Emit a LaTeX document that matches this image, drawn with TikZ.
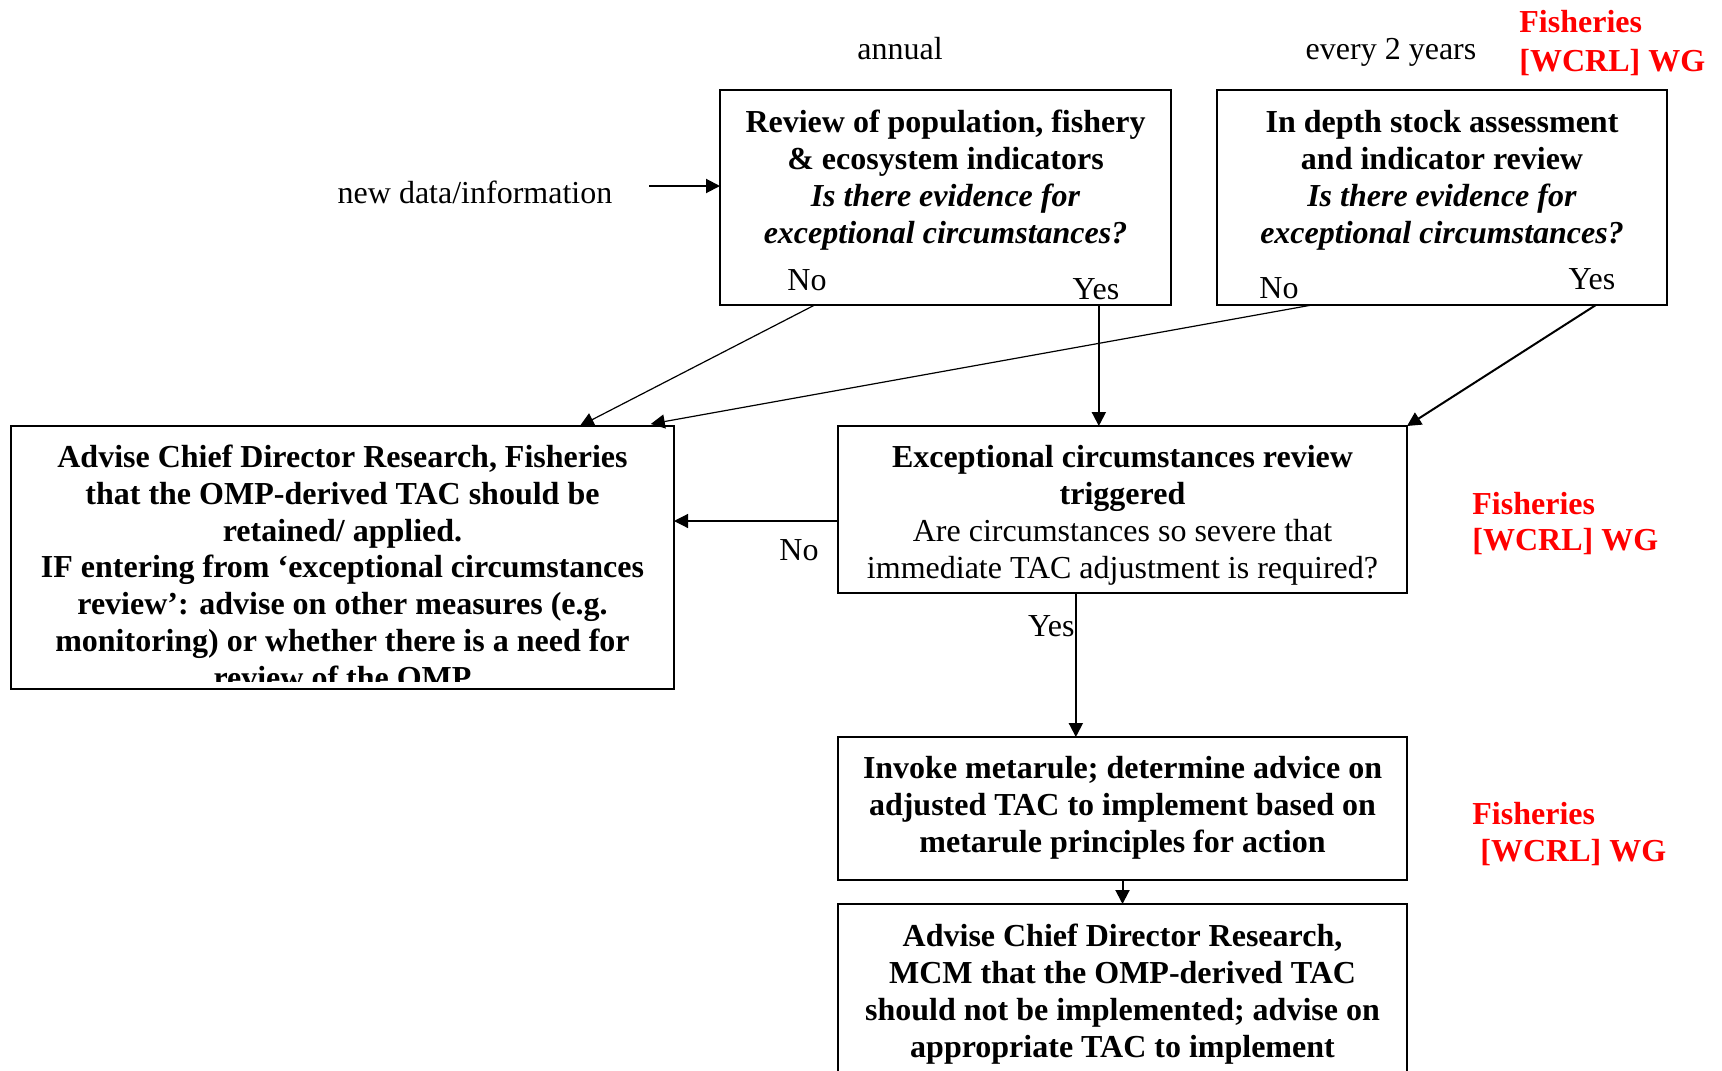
\documentclass[tikz,border=0pt]{standalone}
\usepackage{fontspec}
\setmainfont{Liberation Serif}
\usetikzlibrary{arrows.meta,fit,calc}
\definecolor{wgred}{RGB}{255,0,0}
\begin{document}
\begin{tikzpicture}[x=0.5pt,y=-0.5pt,
  box/.style={draw,line width=1pt,inner sep=0pt,outer sep=0pt},
  txt/.style={inner sep=0pt,align=center,font=\fontsize{16}{18.35}\selectfont},
  lbl/.style={inner sep=0pt,font=\fontsize{16}{18.35}\selectfont},
  wg/.style={inner sep=0pt,text=wgred,font=\fontsize{16}{18.35}\selectfont\bfseries},
  arr/.style={line width=1pt,-{Triangle[length=7pt,width=7pt]}},
  thinarr/.style={line width=0.6pt,-{Triangle[length=7pt,width=7pt]}}]
\useasboundingbox (0,0) rectangle (1722,1070);

% boxes
\node[box,fit={(720,90) (1171,305)}] (b1) {};
\node[box,fit={(1217,90) (1667,305)}] (b2) {};
\node[box,fit={(11,426) (674,689)}] (L) {};
\node[box,fit={(838,426) (1407,593)}] (E) {};
\node[box,fit={(838,737) (1407,880)}] (I) {};
\node[box,fit={(838,904) (1407,1110)}] (A) {};

% box texts (anchor base = baseline of last line)
\node[txt,anchor=base] (t1) at (945.5,243) {\textbf{Review of population, fishery}\\
  \textbf{\& ecosystem indicators}\\ \textbf{\textit{Is there evidence for}}\\
  \textbf{\textit{exceptional circumstances?}}};
\node[txt,anchor=base] (t2) at (1442,243) {\textbf{In depth stock assessment}\\
  \textbf{and indicator review}\\ \textbf{\textit{Is there evidence for}}\\
  \textbf{\textit{exceptional circumstances?}}};
\begin{scope}
\clip (L.north west) rectangle ($(L.south east)+(0,-8)$);
\node[txt,anchor=base,font=\fontsize{16}{18.35}\selectfont\bfseries] (tL) at (342.5,688)
  {Advise Chief Director Research, Fisheries\\ that the OMP-derived TAC should be\\
   retained/ applied.\\ IF entering from ‘exceptional circumstances\\
   review’: advise on other measures (e.g.\\ monitoring) or whether there is a need for\\
   review of the OMP};
\end{scope}
\node[txt,anchor=base] (tE) at (1122.5,578) {\textbf{Exceptional circumstances review}\\
  \textbf{triggered}\\ Are circumstances so severe that\\ immediate TAC adjustment is required?};
\node[txt,anchor=base,font=\fontsize{16}{18.35}\selectfont\bfseries] (tI) at (1122.5,852)
  {Invoke metarule; determine advice on\\ adjusted TAC to implement based on\\
   metarule principles for action};
\node[txt,anchor=base,font=\fontsize{16}{18.35}\selectfont\bfseries] (tA) at (1122.5,1057)
  {Advise Chief Director Research,\\ MCM that the OMP-derived TAC\\
   should not be implemented; advise on\\ appropriate TAC to implement};

% free labels
\node[lbl,anchor=base] (annual) at (900,60) {annual};
\node[lbl,anchor=base] (every) at (1391,60) {every 2 years};
\node[lbl,anchor=base] (newdata) at (475,203) {new data/information};
\coordinate (nd) at (649,186);
\node[lbl,anchor=base] (no1) at (807,290) {No};
\node[lbl,anchor=base] (yes1) at (1096,299) {Yes};
\node[lbl,anchor=base] (no2) at (1279,298) {No};
\node[lbl,anchor=base] (yes2) at (1592,289) {Yes};
\node[lbl,anchor=base] (noE) at (799,560) {No};
\node[lbl,anchor=base east] (yesE) at (1075,636) {Yes};

% red WG labels
\node[wg,anchor=base west] (wg1a) at (1519,33) {Fisheries};
\node[wg,anchor=base west] (wg1b) at (1519,72) {[WCRL] WG};
\node[wg,anchor=base west] (wg2a) at (1472,514) {Fisheries};
\node[wg,anchor=base west] (wg2b) at (1472,550) {[WCRL] WG};
\node[wg,anchor=base west] (wg3a) at (1472,824) {Fisheries};
\node[wg,anchor=base west] (wg3b) at (1480,861) {[WCRL] WG};

% connector points
\coordinate (b1no) at ($(b1.south west)!0.21!(b1.south east)$);
\coordinate (b1yes) at ($(b1.south west)!0.84!(b1.south east)$);
\coordinate (b2no) at ($(b2.south west)!0.211!(b2.south east)$);
\coordinate (b2yes) at ($(b2.south west)!0.842!(b2.south east)$);
\coordinate (Lno1) at ($(L.north west)!0.858!(L.north east)$);
\coordinate (Lno2) at ($(L.north west)!0.965!(L.north east)+(0,-2)$);
\coordinate (Eno) at ($(E.west)+(0,11.5)$);
\coordinate (Eyes) at ($(E.south west)!0.418!(E.south east)$);

% connectors
\draw[arr] (nd) -- (b1.west |- nd);
\draw[thinarr] (b1no) -- (Lno1);
\draw[arr] (b1yes) -- (b1yes |- E.north);
\draw[thinarr] (b2no) -- (Lno2);
\draw[arr] (b2yes) -- (E.north east);
\draw[thinarr] (Eno) -- (L.east |- Eno);
\draw[arr] (Eyes) -- (Eyes |- I.north);
\draw[arr] (I.south) -- (A.north);
\end{tikzpicture}
\end{document}
